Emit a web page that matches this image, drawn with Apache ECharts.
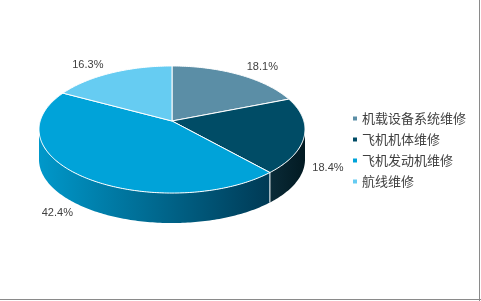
<!DOCTYPE html>
<html><head><meta charset="utf-8">
<script src="https://cdn.jsdelivr.net/npm/echarts@6/dist/echarts.min.js"></script>
<style>html,body{margin:0;padding:0;background:#fff}#c{width:481px;height:301px}</style>
</head><body><div id="c"></div>
<script>
const categories = ['机载设备系统维修','飞机机体维修','飞机发动机维修','航线维修'];
const values = [18.1, 18.4, 42.4, 16.3];
const colors = ['#5b8ea6','#004c66','#00a3d9','#66ccf2'];
const wallColors = [['#3d6a80','#2a4f60'],['#0a2b38','#021a22'],['#0098ca','#003a55'],['#4aa8cc','#2a7fa0']];

const CX=172, CY=121, A=131.8, B=62.4, K=0.134, D=30;
const total = values.reduce((a,b)=>a+b,0);
function proj(theta, r){ const u=r*Math.sin(theta), v=r*Math.cos(theta); const s=1+K*v; return [CX + A*u/s, CY - B*v/s]; }
let thR=0, thL=0, maxX=-1e9, minX=1e9;
for (let i=0;i<=3600;i++){ const t=i/3600*2*Math.PI; const p=proj(t,1); if(p[0]>maxX){maxX=p[0];thR=t;} if(p[0]<minX){minX=p[0];thL=t;} }
const starts=[]; let acc=0; values.forEach(v=>{starts.push(acc/total*2*Math.PI); acc+=v;});
function arc(a,b,n){ const pts=[]; for(let i=0;i<=n;i++){ pts.push(proj(a+(b-a)*i/n,1)); } return pts; }

function renderItem(params, api){
  const i = params.seriesIndex;
  const a = starts[i], b = a + values[i]/total*2*Math.PI;
  const children=[];
  const topPts = [[CX,CY]].concat(arc(a,b,Math.max(8,Math.ceil((b-a)*60))));
  children.push({type:'polygon', shape:{points:topPts}, style:{fill:colors[i], stroke:'#ffffff', lineWidth:1}, z2:10});
  const wa=Math.max(a,thR), wb=Math.min(b,thL);
  if (wb>wa){
    const top=arc(wa,wb,Math.ceil((wb-wa)*60));
    const bot=top.map(p=>[p[0],p[1]+D]).reverse();
    children.push({type:'polygon', shape:{points:top.concat(bot)}, style:{fill:new echarts.graphic.LinearGradient(0,0,1,0,[{offset:0,color:wallColors[i][0]},{offset:1,color:wallColors[i][1]}])}, z2:1});
    if (a>=thR && a<=thL){ const p=proj(a,1); children.push({type:'line', shape:{x1:p[0],y1:p[1],x2:p[0],y2:p[1]+D}, style:{stroke:'#ffffff',lineWidth:1}, z2:5}); }
  }
  const m=(a+b)/2; const u=Math.sin(m), v=Math.cos(m); const p=proj(m,1);
  const front = (m>=thR && m<=thL);
  const lx=p[0]+(u>=0?8:-8), ly=p[1]-9*v+(front?D:0);
  children.push({type:'text', x:lx, y:ly, style:{text: values[i]+'%', fill:'#404040', font:'11px "Liberation Sans", Arial, sans-serif', align:(u>=0?'left':'right'), verticalAlign:'middle'}, z2:20});
  return {type:'group', children};
}

const chart = echarts.init(document.getElementById('c'), null, {renderer:'canvas'});
chart.setOption({
  animation:false,
  legend:{orient:'vertical', left:348, top:107, icon:'rect', itemWidth:4, itemHeight:4, itemGap:8,
    textStyle:{fontSize:13, color:'#404040', fontFamily:'"Noto Sans CJK SC", sans-serif'}, data:categories, selectedMode:false},
  graphic:[
    {type:'line', shape:{x1:479.5,y1:0,x2:479.5,y2:301}, style:{stroke:'#8a8a8a',lineWidth:1}},
    {type:'line', shape:{x1:0,y1:299.5,x2:481,y2:299.5}, style:{stroke:'#8a8a8a',lineWidth:1}}
  ],
  series: categories.map((name,i)=>({type:'custom', name, coordinateSystem:'none', renderItem, data:[[values[i]]], itemStyle:{color:colors[i]}, silent:true}))
});
</script></body></html>
